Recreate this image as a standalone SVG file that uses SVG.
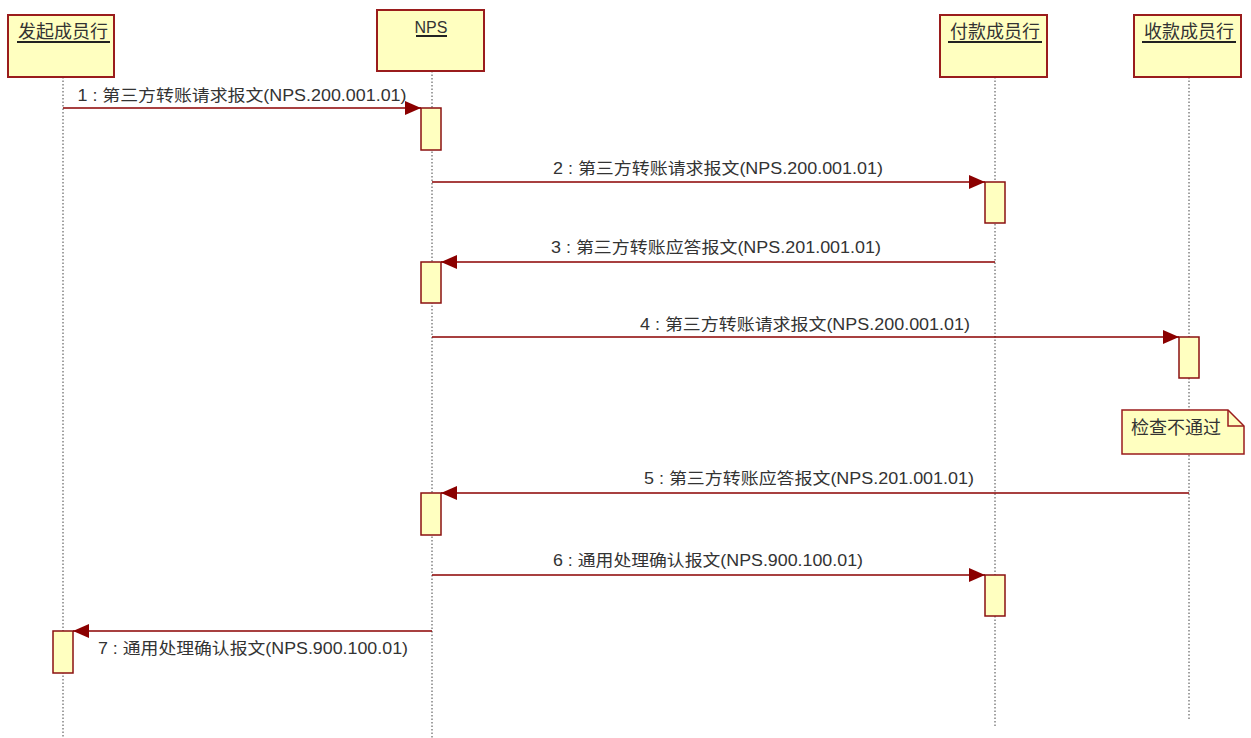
<svg xmlns="http://www.w3.org/2000/svg" width="1251" height="738" viewBox="0 0 1251 738">
<defs>
<style>
.hd{fill:#ffffc0;stroke:#9a1c1c;stroke-width:2}
.act{fill:#ffffc0;stroke:#8b1010;stroke-width:1.5}
.life{stroke:#444;stroke-width:1;stroke-dasharray:1.5,2}
.msg{stroke:#8b0000;stroke-width:1.5;fill:none}
.t{font-family:"Liberation Sans","Noto Sans CJK SC",sans-serif;fill:#333}
.lbl{font-size:16px;text-anchor:middle}
.ul{stroke:#222;stroke-width:2}
</style>
<marker id="ar" viewBox="0 0 16 14" refX="16" refY="7" markerWidth="16" markerHeight="14" markerUnits="userSpaceOnUse" orient="auto">
<path d="M0,0 L16,7 L0,14 Z" fill="#8b0000"/>
</marker>
</defs>
<rect width="1251" height="738" fill="#fff"/>
<g id="lifelines">
<line class="life" x1="63" y1="77" x2="63" y2="738"/>
<line class="life" x1="432" y1="71" x2="432" y2="738"/>
<line class="life" x1="995" y1="77" x2="995" y2="728"/>
<line class="life" x1="1189" y1="77" x2="1189" y2="721"/>
</g>
<g id="node-faqi">
<rect class="hd" x="8" y="15" width="106" height="62"/>
<text class="t" x="63" y="38" font-size="18" text-anchor="middle">发起成员行</text>
<line class="ul" x1="17" y1="42" x2="110" y2="42"/>
</g>
<g id="node-nps">
<rect class="hd" x="377" y="10" width="107" height="61"/>
<text class="t" x="431" y="33" font-size="16" text-anchor="middle">NPS</text>
<line class="ul" x1="416" y1="36" x2="447" y2="36"/>
</g>
<g id="node-fukuan">
<rect class="hd" x="940" y="15" width="107" height="62"/>
<text class="t" x="995" y="38" font-size="18" text-anchor="middle">付款成员行</text>
<line class="ul" x1="948" y1="42" x2="1042" y2="42"/>
</g>
<g id="node-shoukuan">
<rect class="hd" x="1134" y="15" width="107" height="62"/>
<text class="t" x="1189" y="38" font-size="18" text-anchor="middle">收款成员行</text>
<line class="ul" x1="1142" y1="42" x2="1236" y2="42"/>
</g>
<g id="activations">
<rect class="act" x="421" y="108" width="20" height="42"/>
<rect class="act" x="985" y="182" width="20" height="41"/>
<rect class="act" x="421" y="262" width="20" height="41"/>
<rect class="act" x="1179" y="337" width="20" height="41"/>
<rect class="act" x="421" y="493" width="20" height="42"/>
<rect class="act" x="985" y="575" width="20" height="41"/>
<rect class="act" x="53" y="631" width="20" height="42"/>
</g>
<g id="note">
<path d="M1122,410 L1228,410 L1244,426 L1244,454 L1122,454 Z" fill="#ffffc0" stroke="#9a1c1c" stroke-width="1.5"/>
<path d="M1228,410 L1228,426 L1244,426" fill="none" stroke="#9a1c1c" stroke-width="1.5"/>
<text class="t" x="1131" y="434" font-size="18">检查不通过</text>
</g>
<g id="connectors">
<line class="msg" x1="63" y1="108" x2="421" y2="108" marker-end="url(#ar)"/>
<line class="msg" x1="432" y1="182" x2="985" y2="182" marker-end="url(#ar)"/>
<line class="msg" x1="995" y1="262" x2="441" y2="262" marker-end="url(#ar)"/>
<line class="msg" x1="432" y1="337" x2="1179" y2="337" marker-end="url(#ar)"/>
<line class="msg" x1="1189" y1="493" x2="441" y2="493" marker-end="url(#ar)"/>
<line class="msg" x1="432" y1="575" x2="985" y2="575" marker-end="url(#ar)"/>
<line class="msg" x1="432" y1="631" x2="73" y2="631" marker-end="url(#ar)"/>
</g>
<g id="labels">
<text class="t lbl" x="242" y="101" textLength="329" lengthAdjust="spacingAndGlyphs">1 : 第三方转账请求报文(NPS.200.001.01)</text>
<text class="t lbl" x="718" y="174" textLength="330" lengthAdjust="spacingAndGlyphs">2 : 第三方转账请求报文(NPS.200.001.01)</text>
<text class="t lbl" x="716" y="253" textLength="330" lengthAdjust="spacingAndGlyphs">3 : 第三方转账应答报文(NPS.201.001.01)</text>
<text class="t lbl" x="805" y="330" textLength="330" lengthAdjust="spacingAndGlyphs">4 : 第三方转账请求报文(NPS.200.001.01)</text>
<text class="t lbl" x="809" y="484" textLength="330" lengthAdjust="spacingAndGlyphs">5 : 第三方转账应答报文(NPS.201.001.01)</text>
<text class="t lbl" x="708" y="566" textLength="310" lengthAdjust="spacingAndGlyphs">6 : 通用处理确认报文(NPS.900.100.01)</text>
<text class="t lbl" x="253" y="654" textLength="310" lengthAdjust="spacingAndGlyphs">7 : 通用处理确认报文(NPS.900.100.01)</text>
</g>
</svg>
